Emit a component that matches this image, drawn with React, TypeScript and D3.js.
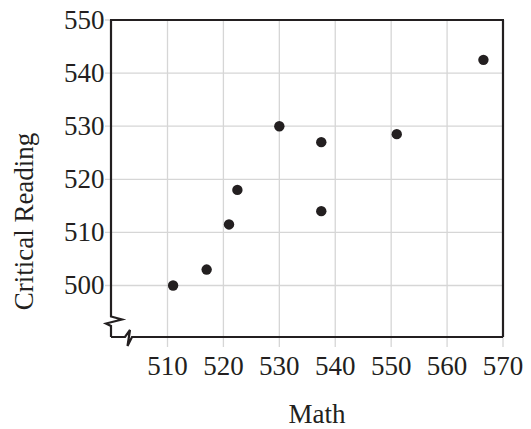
import React from "react";
import * as d3 from "d3";

const mathScores = [511, 517, 521, 522.5, 530, 537.5, 537.5, 551, 566.5];
const readingScores = [500, 503, 511.5, 518, 530, 527, 514, 528.5, 542.5];
const xTicks = [510, 520, 530, 540, 550, 560, 570];
const yTicks = [500, 510, 520, 530, 540, 550];
const xTitle = "Math";
const yTitle = "Critical Reading";

const W = 531;
const H = 429;
const FRAME = { left: 111, top: 20, right: 503, bottom: 337 };
const FONT = "Liberation Serif, DejaVu Serif, serif";
const INK = "#231f20";
const GRID = "#d6d6d6";

export default function App() {
  const x = d3.scaleLinear().domain([510, 570]).range([167.5, FRAME.right]);
  const y = d3.scaleLinear().domain([500, 550]).range([285.5, FRAME.top]);

  const L = FRAME.left;
  const B = FRAME.bottom;
  const line = d3.line();

  const leftAxis = line([
    [L, FRAME.top],
    [L, 316.5],
    [L + 11, 319.5],
    [L - 5, 323.5],
    [L, 326],
    [L, B],
  ]);
  const bottomAxis = line([
    [L, B],
    [125, B],
    [130, 330],
    [127.5, 346],
    [132, B],
    [FRAME.right, B],
  ]);

  const textStyle = { fontFamily: FONT, fontSize: 27, fill: INK } as React.CSSProperties;

  return (
    <svg
      width={W}
      height={H}
      style={{ position: "absolute", left: 0, top: 0, background: "#fff" }}
    >
      {xTicks.map((t) => (
        <line
          key={"gx" + t}
          x1={x(t)}
          x2={x(t)}
          y1={FRAME.top}
          y2={B + 10}
          stroke={GRID}
          strokeWidth={1.3}
        />
      ))}
      {yTicks.map((t) => (
        <line
          key={"gy" + t}
          x1={L - 6}
          x2={FRAME.right}
          y1={y(t)}
          y2={y(t)}
          stroke={GRID}
          strokeWidth={1.3}
        />
      ))}
      <line x1={L - 1} x2={FRAME.right + 1} y1={FRAME.top} y2={FRAME.top} stroke={INK} strokeWidth={2.2} />
      <line x1={FRAME.right} x2={FRAME.right} y1={FRAME.top} y2={B} stroke={INK} strokeWidth={2.2} />
      <path d={leftAxis || ""} fill="none" stroke={INK} strokeWidth={2.2} />
      <path d={bottomAxis || ""} fill="none" stroke={INK} strokeWidth={2.2} />
      {mathScores.map((m, i) => (
        <circle key={"p" + i} cx={x(m)} cy={y(readingScores[i])} r={5.2} fill={INK} />
      ))}
      {xTicks.map((t) => (
        <text key={"tx" + t} x={x(t)} y={375} textAnchor="middle" style={textStyle}>
          {t}
        </text>
      ))}
      {yTicks.map((t) => (
        <text key={"ty" + t} x={104.5} y={y(t) + 8.8} textAnchor="end" style={textStyle}>
          {t}
        </text>
      ))}
      <text x={317} y={423} textAnchor="middle" style={textStyle}>
        {xTitle}
      </text>
      <text transform="translate(33,221.5) rotate(-90)" textAnchor="middle" style={textStyle}>
        {yTitle}
      </text>
    </svg>
  );
}
